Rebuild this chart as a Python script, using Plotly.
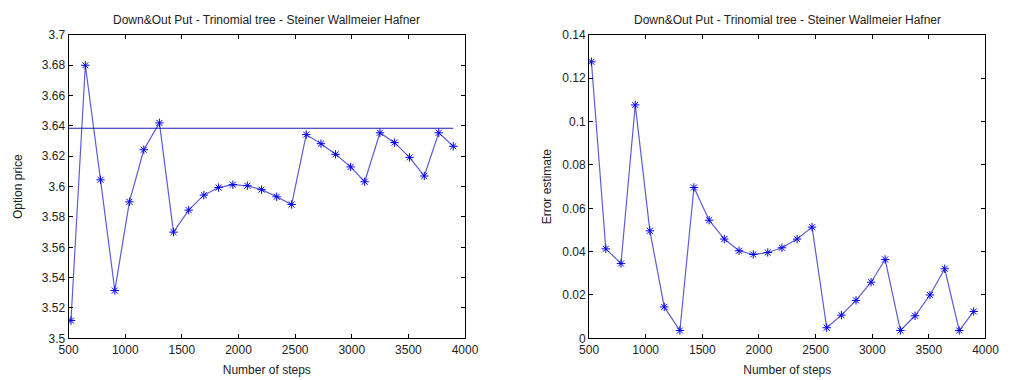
import plotly.graph_objects as go

steps = [521, 648, 782, 908, 1037, 1164, 1302, 1426, 1560, 1694, 1824, 1950, 2078,
         2203, 2337, 2469, 2598, 2728, 2857, 2990, 3114, 3249, 3378, 3510, 3640, 3768, 3896]
price = [3.5117, 3.6800, 3.6045, 3.5315, 3.5900, 3.6243, 3.6420, 3.5700, 3.5845,
         3.5944, 3.5994, 3.6013, 3.6006, 3.5980, 3.5933, 3.5882, 3.6343, 3.6283,
         3.6213, 3.6130, 3.6032, 3.6355, 3.6290, 3.6193, 3.6070, 3.6355, 3.6266]
error = [0.1276, 0.0413, 0.0345, 0.1077, 0.0496, 0.0145, 0.0036, 0.0696, 0.0545,
         0.0458, 0.0404, 0.0387, 0.0396, 0.0418, 0.0458, 0.0513, 0.0049, 0.0107,
         0.0175, 0.0259, 0.0364, 0.0036, 0.0104, 0.0200, 0.0321, 0.0036, 0.0124]
ref_x = [500, 3896]
ref_price = [3.6385, 3.6385]

title = "Down&Out Put - Trinomial tree - Steiner Wallmeier Hafner"
x_ticks = [500, 1000, 1500, 2000, 2500, 3000, 3500, 4000]
y1_ticks = [3.5, 3.52, 3.54, 3.56, 3.58, 3.6, 3.62, 3.64, 3.66, 3.68, 3.7]
y1_text = ["3.5", "3.52", "3.54", "3.56", "3.58", "3.6", "3.62", "3.64", "3.66", "3.68", "3.7"]
y2_ticks = [0, 0.02, 0.04, 0.06, 0.08, 0.1, 0.12, 0.14]
y2_text = ["0", "0.02", "0.04", "0.06", "0.08", "0.1", "0.12", "0.14"]

FONT = "Liberation Sans, Arial, sans-serif"
line_col = "#5c5cd6"
mark_col = "#0000ee"
marker = dict(symbol="asterisk-open", size=7, color=mark_col,
              line=dict(color=mark_col, width=1))

fig = go.Figure()
fig.add_trace(go.Scatter(x=steps, y=price, mode="lines+markers",
                         line=dict(color=line_col, width=1.2), marker=marker,
                         xaxis="x", yaxis="y", showlegend=False))
fig.add_trace(go.Scatter(x=ref_x, y=ref_price, mode="lines",
                         line=dict(color="#1a1ab8", width=1.1),
                         xaxis="x", yaxis="y", showlegend=False))
fig.add_trace(go.Scatter(x=steps, y=error, mode="lines+markers",
                         line=dict(color=line_col, width=1.2), marker=marker,
                         xaxis="x2", yaxis="y2", showlegend=False))

W, H = 1020, 380
ytop, ybot = 29, 344
dom_y = [(H - ybot) / H, (H - ytop) / H]

axis_common = dict(showline=True, linecolor="black", linewidth=1, mirror="ticks",
                   ticks="inside", ticklen=4, tickcolor="black", showgrid=False,
                   zeroline=False, tickfont=dict(family=FONT, size=12, color="#222"))

fig.update_layout(
    width=W, height=H, margin=dict(l=0, r=0, t=0, b=0),
    paper_bgcolor="white", plot_bgcolor="white",
    font=dict(family=FONT, size=12, color="#222"),
    xaxis=dict(domain=[60 / W, 466 / W], range=[500, 4000], tickvals=x_ticks,
               title=dict(text="Number of steps", standoff=9, font=dict(size=12)),
               anchor="y", **axis_common),
    yaxis=dict(domain=dom_y, range=[3.5, 3.7], tickvals=y1_ticks, ticktext=y1_text,
               title=dict(text="Option price", standoff=16, font=dict(size=12)),
               anchor="x", **axis_common),
    xaxis2=dict(domain=[593 / W, 999 / W], range=[500, 4000], tickvals=x_ticks,
                title=dict(text="Number of steps", standoff=9, font=dict(size=12)),
                anchor="y2", **axis_common),
    yaxis2=dict(domain=dom_y, range=[0, 0.14], tickvals=y2_ticks, ticktext=y2_text,
                title=dict(text="Error estimate", standoff=8, font=dict(size=12)),
                anchor="x2", **axis_common),
    annotations=[
        dict(text=title, x=(60 + 466) / 2 / W, y=(H - 14) / H, xref="paper", yref="paper",
             showarrow=False, font=dict(family=FONT, size=12, color="#222"),
             xanchor="center", yanchor="middle"),
        dict(text=title, x=(593 + 999) / 2 / W, y=(H - 14) / H, xref="paper", yref="paper",
             showarrow=False, font=dict(family=FONT, size=12, color="#222"),
             xanchor="center", yanchor="middle"),
    ],
)

fig.write_html("out.html")
